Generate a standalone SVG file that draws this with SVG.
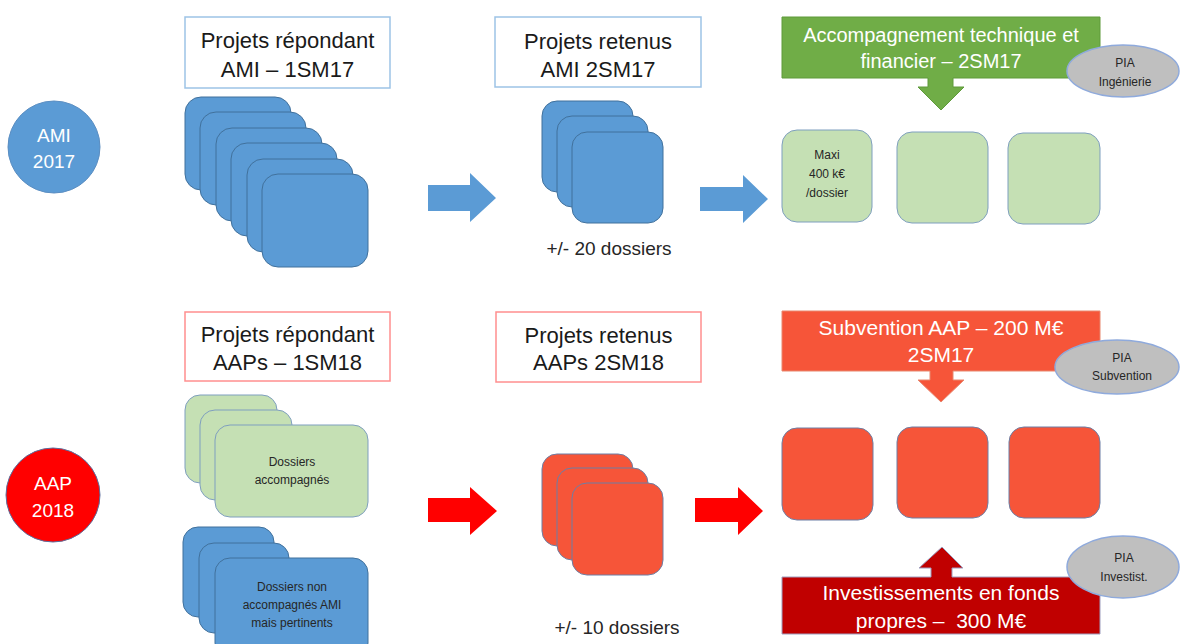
<svg xmlns="http://www.w3.org/2000/svg" width="1180" height="644" viewBox="0 0 1180 644">
<style>
text{font-family:"Liberation Sans",Arial,sans-serif;text-anchor:middle}
.t{font-size:22px;fill:#1a1a1a}
.w{fill:#ffffff}
.d{fill:#262626}
.lb{fill:#ffffff;stroke:#9DC3E6;stroke-width:1.5}
.lr{fill:#ffffff;stroke:#FF8F8F;stroke-width:1.5}
.bl{fill:#5B9BD5;stroke:#41719C;stroke-width:1}
.gr{fill:#C5E0B4;stroke:#7F9FBF;stroke-width:1}
.rd{fill:#F65539;stroke:#6C7FA6;stroke-width:1}
.pia{fill:#BFBFBF;stroke:#8FAADC;stroke-width:1.5}
.small{font-size:12px;fill:#262626}
</style>
<rect width="1180" height="644" fill="#ffffff"/>

<g id="ami2017">
<circle cx="54" cy="147" r="46" fill="#5B9BD5" stroke="#5B8EC2" stroke-width="1"/>
<text x="54" y="142" class="w" font-size="19">AMI</text>
<text x="54" y="168" class="w" font-size="19">2017</text>
</g>

<g id="aap2018">
<circle cx="53" cy="495" r="47" fill="#FF0000" stroke="#5B6E9E" stroke-width="1"/>
<text x="53" y="490" class="w" font-size="19">AAP</text>
<text x="53" y="517" class="w" font-size="19">2018</text>
</g>

<g id="title-ami-repondant">
<rect x="185" y="17" width="205" height="71" class="lb"/>
<text x="287.5" y="48" class="t">Projets répondant</text>
<text x="287.5" y="77" class="t">AMI – 1SM17</text>
</g>

<g id="stack-ami-repondant">
<rect x="185" y="97" width="106" height="93" rx="16" class="bl"/>
<rect x="200" y="112" width="106" height="93" rx="16" class="bl"/>
<rect x="216" y="128" width="106" height="93" rx="16" class="bl"/>
<rect x="231" y="143" width="106" height="93" rx="16" class="bl"/>
<rect x="247" y="159" width="106" height="93" rx="16" class="bl"/>
<rect x="262" y="174" width="106" height="93" rx="16" class="bl"/>
</g>

<g id="title-ami-retenus">
<rect x="495" y="17" width="206" height="70" class="lb"/>
<text x="598" y="49" class="t">Projets retenus</text>
<text x="598" y="77" class="t">AMI 2SM17</text>
</g>

<g id="stack-ami-retenus">
<rect x="542" y="101" width="91" height="91" rx="15" class="bl"/>
<rect x="557" y="116" width="91" height="91" rx="15" class="bl"/>
<rect x="572" y="132" width="91" height="91" rx="15" class="bl"/>
<text x="609" y="255" class="d" font-size="19">+/- 20 dossiers</text>
</g>

<g id="callout-accompagnement">
<path d="M782,17 H1100 V78 H953 V87 H964 L941,110 L918,87 H928 V78 H782 Z" fill="#70AD47" stroke="#5E9A3A" stroke-width="1"/>
<text x="941" y="42" class="w" font-size="20">Accompagnement technique et</text>
<text x="941" y="68" class="w" font-size="20">financier – 2SM17</text>
</g>

<g id="pia-ingenierie">
<ellipse cx="1123" cy="71" rx="56" ry="26" class="pia"/>
<text x="1125" y="67" class="small">PIA</text>
<text x="1125" y="86" class="small">Ingénierie</text>
</g>

<g id="green-boxes">
<rect x="782" y="130" width="90" height="92" rx="15" class="gr"/>
<rect x="897" y="132" width="91" height="91" rx="15" class="gr"/>
<rect x="1008" y="133" width="92" height="91" rx="15" class="gr"/>
<text x="827" y="159" class="small" font-size="11">Maxi</text>
<text x="827" y="178" class="small" font-size="11">400 k€</text>
<text x="827" y="197" class="small" font-size="11">/dossier</text>
</g>

<g id="title-aap-repondant">
<rect x="185" y="312" width="205" height="69" class="lr"/>
<text x="287.5" y="342" class="t">Projets répondant</text>
<text x="287.5" y="370" class="t">AAPs – 1SM18</text>
</g>

<g id="stack-accompagnes">
<rect x="185" y="395" width="92" height="88" rx="15" class="gr"/>
<rect x="200" y="410" width="92" height="90" rx="15" class="gr"/>
<rect x="215" y="425" width="153" height="92" rx="15" class="gr"/>
<text x="292" y="466" class="small" font-size="13">Dossiers</text>
<text x="292" y="484" class="small" font-size="13">accompagnés</text>
</g>

<g id="stack-non-accompagnes">
<rect x="183" y="527" width="91" height="90" rx="15" class="bl"/>
<rect x="199" y="543" width="90" height="90" rx="15" class="bl"/>
<rect x="215" y="558" width="153" height="100" rx="15" class="bl"/>
<text x="292" y="591" class="small" font-size="13">Dossiers non</text>
<text x="292" y="609" class="small" font-size="13">accompagnés AMI</text>
<text x="292" y="627" class="small" font-size="13">mais pertinents</text>
</g>

<g id="title-aap-retenus">
<rect x="496" y="312" width="205" height="70" class="lr"/>
<text x="598.5" y="343" class="t">Projets retenus</text>
<text x="598.5" y="370" class="t">AAPs 2SM18</text>
</g>

<g id="stack-aap-retenus">
<rect x="542" y="454" width="91" height="92" rx="15" class="rd"/>
<rect x="557" y="468" width="91" height="92" rx="15" class="rd"/>
<rect x="572" y="483" width="91" height="92" rx="15" class="rd"/>
<text x="617" y="634" class="d" font-size="19">+/- 10 dossiers</text>
</g>

<g id="callout-subvention">
<path d="M782,311 H1100 V371 H953 V380 H964 L941,402 L918,380 H930 V371 H782 Z" fill="#F65539" stroke="#E8876F" stroke-width="1"/>
<text x="941" y="335" class="w" font-size="21">Subvention AAP – 200 M€</text>
<text x="941" y="362" class="w" font-size="21">2SM17</text>
</g>

<g id="pia-subvention">
<ellipse cx="1117" cy="367" rx="62" ry="27" class="pia"/>
<text x="1122" y="362" class="small">PIA</text>
<text x="1122" y="380" class="small">Subvention</text>
</g>

<g id="red-boxes">
<rect x="782" y="428" width="91" height="92" rx="15" class="rd"/>
<rect x="897" y="427" width="91" height="91" rx="15" class="rd"/>
<rect x="1009" y="427" width="91" height="91" rx="15" class="rd"/>
</g>

<g id="callout-investissements">
<path d="M782,577 H931 V568 H919 L942,547 L963,568 H952 V577 H1100 V634 H782 Z" fill="#C00000" stroke="#9E9EBE" stroke-width="1"/>
<text x="941" y="600" class="w" font-size="21">Investissements en fonds</text>
<text x="941" y="628" class="w" font-size="21" xml:space="preserve" style="white-space:pre">propres –  300 M€</text>
</g>

<g id="pia-investist">
<ellipse cx="1123" cy="567" rx="56" ry="31" class="pia"/>
<text x="1124" y="562" class="small">PIA</text>
<text x="1124" y="581" class="small">Investist.</text>
</g>

<g id="connectors">
<path d="M428,185 H470 V173 L496,198 L470,222 V211 H428 Z" fill="#5B9BD5"/>
<path d="M700,187 H743 V175 L768,199 L743,223 V211 H700 Z" fill="#5B9BD5"/>
<path d="M428,498 H470 V487 L497,511 L470,535 V522 H428 Z" fill="#FF0000"/>
<path d="M695,498 H738 V487 L763,511 L738,535 V522 H695 Z" fill="#FF0000"/>
</g>
</svg>
